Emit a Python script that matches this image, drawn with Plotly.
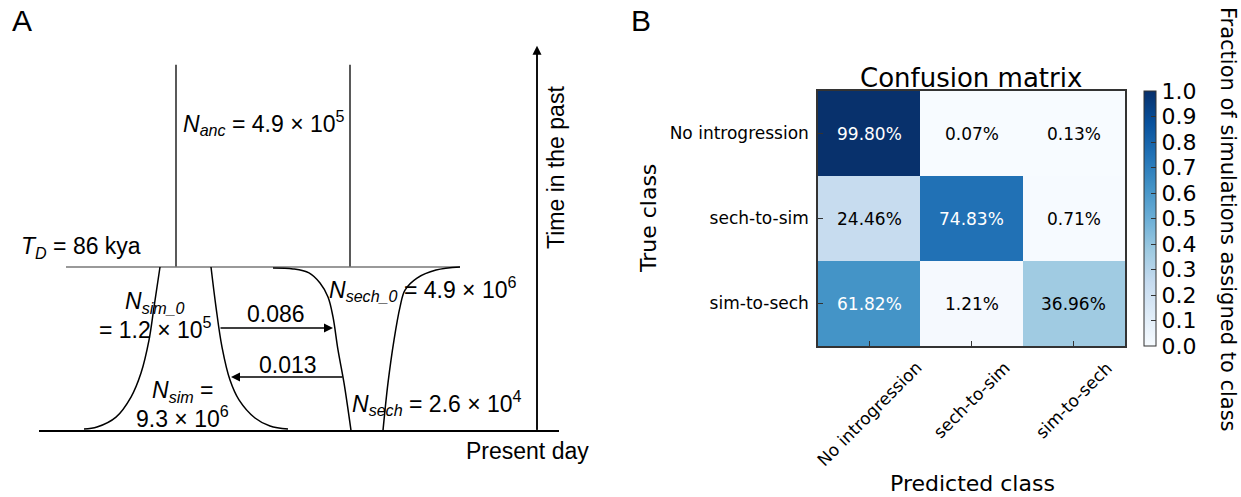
import plotly.graph_objects as go

W, H = 1241, 497

# ---------------- Panel A: demographic model (times in kya) ----------------
T_D = 86                 # divergence time (kya)
t_anc_top = 192          # top of ancestral population drawing
t_arrow_top = 202        # top of "time in the past" arrow
anc_x = [176, 350]       # ancestral population edges (diagram units)
split_line_x = [66, 460]
present_line_x = [39, 559]
time_arrow_x = 537

# population outlines (diagram x, time in kya)
sim_left_x = [160, 154, 149, 141, 131, 116, 97, 84]
sim_left_t = [86, 65, 47.7, 30.4, 17.8, 7.3, 2.1, 1.0]
sim_right_x = [211, 216, 222, 230, 239, 255, 270, 288]
sim_right_t = [86, 65, 44, 26.7, 16.3, 6.8, 2.6, 1.0]
sech_left_x = [273, 293, 309, 320, 328, 333, 338, 344, 351]
sech_left_t = [85.5, 85, 82.9, 77.6, 70.3, 59.8, 42.5, 25.2, 0.3]
sech_right_x = [460, 436, 417, 405, 400, 394, 388, 383]
sech_right_t = [86, 84.4, 80.2, 73.9, 65, 47.7, 25.2, 0.3]

# migration
mig_rates = ["0.086", "0.013"]
mig_t = [54.0, 28.3]
mig_from_x = [219, 344]
mig_to_x = [333, 231]

# ---------------- Panel B: confusion matrix ----------------
classes = ["No introgression", "sech-to-sim", "sim-to-sech"]
cm_pct = [
    [99.80, 0.07, 0.13],
    [24.46, 74.83, 0.71],
    [61.82, 1.21, 36.96],
]

blues = ['rgb(247,251,255)', 'rgb(222,235,247)', 'rgb(198,219,239)', 'rgb(158,202,225)',
         'rgb(107,174,214)', 'rgb(66,146,198)', 'rgb(33,113,181)', 'rgb(8,81,156)', 'rgb(8,48,107)']
colorscale = [[i / (len(blues) - 1), c] for i, c in enumerate(blues)]

ARIAL = "Liberation Sans, Arial, sans-serif"
DEJAVU = "DejaVu Sans, sans-serif"

# pixel geometry helpers for panel A layout
k = 164 / 86.0  # px per kya
y_bottom = (431 - H) / k
y_top = 431 / k

fig = go.Figure()

def add_line(xs, ts, width=1.5, color="black", shape="linear"):
    fig.add_trace(go.Scatter(x=xs, y=ts, mode="lines", line=dict(color=color, width=width, shape=shape),
                             hoverinfo="skip", showlegend=False, xaxis="x", yaxis="y"))

# ancestral
for ax_ in anc_x:
    add_line([ax_, ax_], [T_D, t_anc_top], width=1.3)
# split line
add_line(split_line_x, [T_D, T_D], width=1.3, color="#777777")
# present line
add_line(present_line_x, [0, 0], width=2)
# time arrow shaft
add_line([time_arrow_x, time_arrow_x], [0, t_arrow_top - 4], width=1.5)
# populations
add_line(sim_left_x, sim_left_t, shape="spline")
add_line(sim_right_x, sim_right_t, shape="spline")
add_line(sech_left_x, sech_left_t, shape="spline")
add_line(sech_right_x, sech_right_t, shape="spline")

annotations = []
# arrows
for fx, tx, t in zip(mig_from_x, mig_to_x, mig_t):
    annotations.append(dict(x=tx, y=t, ax=fx, ay=t, xref="x", yref="y", axref="x", ayref="y",
                            text="", showarrow=True, arrowhead=2, arrowsize=1.2, arrowwidth=1.5,
                            arrowcolor="black"))
annotations.append(dict(x=time_arrow_x, y=t_arrow_top, ax=time_arrow_x, ay=0, xref="x", yref="y",
                        axref="x", ayref="y", text="", showarrow=True, arrowhead=2, arrowsize=1.2,
                        arrowwidth=1.5, arrowcolor="black"))

def txt(x, t, s, xanchor="center", size=23, angle=0, font=ARIAL):
    annotations.append(dict(x=x, y=t, xref="x", yref="y", text=s, showarrow=False, xanchor=xanchor,
                            yanchor="middle", textangle=angle, font=dict(family=font, size=size, color="black")))

txt(181, (431 - 123) / k, "<i>N<sub>anc</sub></i> = 4.9 × 10<sup>5</sup>", xanchor="left")
txt(19, (431 - 247) / k, "<i>T<sub>D</sub></i> = 86 kya", xanchor="left")
txt(155, (431 - 302) / k, "<i>N<sub>sim_0</sub></i>")
txt(155, (431 - 328) / k, "= 1.2 × 10<sup>5</sup>")
txt(276, (431 - 314) / k, mig_rates[0])
txt(288, (431 - 365) / k, mig_rates[1])
txt(182, (431 - 391) / k, "<i>N<sub>sim</sub></i> =")
txt(182, (431 - 417) / k, "9.3 × 10<sup>6</sup>")
txt(327, (431 - 289) / k, "<i>N<sub>sech_0</sub></i> = 4.9 × 10<sup>6</sup>", xanchor="left")
txt(350, (431 - 403) / k, "<i>N<sub>sech</sub></i> = 2.6 × 10<sup>4</sup>", xanchor="left")
txt(464, (431 - 451) / k, "Present day", xanchor="left")
txt(556, (431 - 168) / k, "Time in the past", angle=-90)

def ptxt(px, py, s, size, font=DEJAVU, angle=0):
    annotations.append(dict(x=px / W, y=1 - py / H, xref="paper", yref="paper", text=s, showarrow=False,
                            xanchor="center", yanchor="middle", textangle=angle,
                            font=dict(family=font, size=size, color="black")))

# panel letters
ptxt(22, 21, "A", 30, font=ARIAL)
ptxt(641, 21, "B", 30, font=ARIAL)

# ---------------- Panel B heatmap ----------------
z = [[v / 100 for v in row] for row in cm_pct]
fig.add_trace(go.Heatmap(
    z=z, x=[0, 1, 2], y=[0, 1, 2], xaxis="x2", yaxis="y2", zmin=0, zmax=1,
    colorscale=colorscale, hoverinfo="skip",
    colorbar=dict(thickness=12, len=255 / H, lenmode="fraction", x=1144 / W, xanchor="left",
                  y=1 - 218.5 / H, yanchor="middle", outlinecolor="#333333", outlinewidth=1,
                  tickvals=[i / 10 for i in range(11)], ticktext=[f"{i/10:.1f}" for i in range(11)],
                  ticks="inside", ticklen=5, tickcolor="#333333",
                  tickfont=dict(family=DEJAVU, size=22, color="black"), xpad=0, ypad=0),
))

for i, row in enumerate(cm_pct):
    for j, v in enumerate(row):
        annotations.append(dict(x=j, y=i, xref="x2", yref="y2", text=f"{v:.2f}%", showarrow=False,
                                xanchor="center", yanchor="middle",
                                font=dict(family=DEJAVU, size=17,
                                          color="white" if v > 50 else "black")))

# rotated x tick labels (matplotlib-style centered)
for j, c in enumerate(classes):
    annotations.append(dict(x=j, y=1 - 355 / H, xref="x2", yref="paper", text=c, showarrow=False,
                            textangle=-45, xanchor="center", yanchor="top",
                            font=dict(family=DEJAVU, size=17, color="black")))

ptxt(971, 78, "Confusion matrix", 26)
ptxt(972, 483, "Predicted class", 22)
ptxt(648, 219, "True class", 22, angle=-90)
ptxt(1228, 219, "Fraction of simulations assigned to class", 21, angle=90)

fig.update_layout(
    width=W, height=H, margin=dict(l=0, r=0, t=0, b=0, autoexpand=False),
    paper_bgcolor="white", plot_bgcolor="white", showlegend=False,
    xaxis=dict(domain=[0, 600 / W], range=[0, 600], visible=False, fixedrange=True),
    yaxis=dict(domain=[0, 1], range=[y_bottom, y_top], visible=False, fixedrange=True),
    xaxis2=dict(domain=[818 / W, 1125 / W], range=[-0.5, 2.5], anchor="y2", showticklabels=False,
                tickvals=[0, 1, 2], ticks="inside", ticklen=5, tickcolor="#333333",
                showline=True, mirror=True, linecolor="#333333", linewidth=1.5, showgrid=False,
                zeroline=False, automargin=False),
    yaxis2=dict(domain=[1 - 346 / H, 1 - 91 / H], range=[2.5, -0.5], anchor="x2",
                tickvals=[0, 1, 2], ticktext=classes, ticks="inside", ticklen=5, tickcolor="#333333",
                tickfont=dict(family=DEJAVU, size=17, color="black"), ticklabelstandoff=4,
                showline=True, mirror=True, linecolor="#333333", linewidth=1.5, showgrid=False,
                zeroline=False, automargin=False),
    annotations=annotations,
)

fig.write_html("out.html", config={"displayModeBar": False},
               post_script="document.body.style.margin='0';")
